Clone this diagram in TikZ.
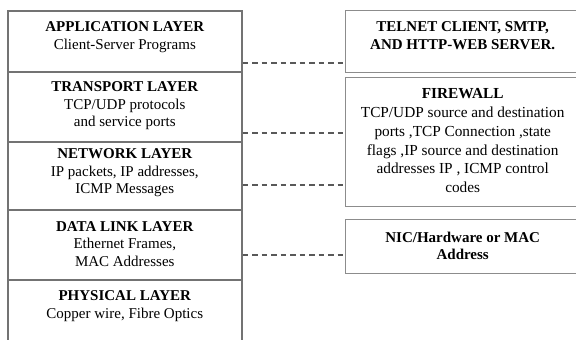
\documentclass[tikz,border=0pt]{standalone}
\usepackage{fontspec}
\setmainfont{Liberation Serif}
\begin{document}
\begin{tikzpicture}[x=1pt,y=-1pt,
  box/.style={draw=black!55, line width=1.6pt, fill=white, anchor=north west,
    inner sep=0pt, minimum width=234},
  rbox/.style={box, draw=black!45, line width=1.4pt},
  txt/.style={align=center, inner sep=0pt, font=\fontsize{15}{17.5}\selectfont},
  fwtxt/.style={txt, font=\fontsize{15.3}{18.8}\selectfont},
  link/.style={draw=black!65, line width=1.9pt, dash pattern=on 5.5pt off 4pt}]
\useasboundingbox (0,0) rectangle (576,340);

% protocol stack, top to bottom
\node[box, minimum height=61] (app) at (7,10) {};
\node[box, minimum height=70] (trans) at (7,71) {};
\node[box, minimum height=68] (net) at (7,141) {};
\node[box, minimum height=70] (dl) at (7,209) {};
\node[box, minimum height=70] (phy) at (7,279) {};

\node[txt, yshift=4] (appt) at (app.center)
  {\textbf{APPLICATION LAYER}\\Client-Server Programs};
\node[txt, yshift=1] (transt) at (trans.center)
  {\textbf{TRANSPORT LAYER}\\TCP/UDP protocols\\and service ports};
\node[txt, yshift=3] (nett) at (net.center)
  {\textbf{NETWORK LAYER}\\IP packets, IP addresses,\\ICMP Messages};
\node[txt, yshift=1] (dlt) at (dl.center)
  {\textbf{DATA LINK LAYER}\\Ethernet Frames,\\MAC Addresses};
\node[txt, yshift=8.5] (phyt) at (phy.center)
  {\textbf{PHYSICAL LAYER}\\Copper wire, Fibre Optics};

% what operates at each layer
\node[rbox, minimum height=62] (telnet) at (345,10) {};
\node[rbox, minimum height=129] (fw) at (345,77) {};
\node[rbox, minimum height=54] (nic) at (345,219) {};

\node[txt, yshift=6] (telnett) at (telnet.center)
  {\textbf{TELNET CLIENT, SMTP,}\\\textbf{AND HTTP-WEB SERVER.}};
\node[fwtxt, yshift=1.5] (fwt) at (fw.center)
  {\textbf{FIREWALL}\\TCP/UDP source and destination\\ports ,TCP Connection ,state\\
   flags ,IP source and destination\\addresses IP , ICMP control\\codes};
\node[txt, yshift=1] (nict) at (nic.center)
  {\textbf{NIC/Hardware or MAC}\\\textbf{Address}};

% dashed links between the two columns
\coordinate (l1) at ([yshift=10]app.south east);
\coordinate (l2) at ([yshift=10]trans.south east);
\coordinate (l3) at ([yshift=26]net.south east);
\coordinate (l4) at ([yshift=26]dl.south east);
\draw[link] (l1) -- (l1 -| telnet.west);
\draw[link] (l2) -- (l2 -| fw.west);
\draw[link] (l3) -- (l3 -| fw.west);
\draw[link] (l4) -- (l4 -| nic.west);
\end{tikzpicture}
\end{document}
